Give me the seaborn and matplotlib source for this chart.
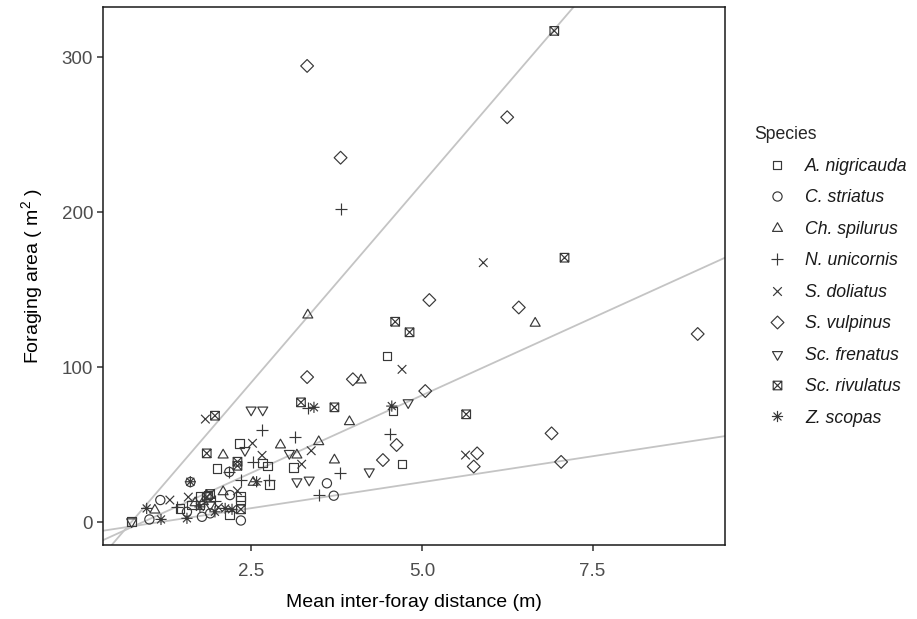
import numpy as np
import pandas as pd
import matplotlib
matplotlib.use("Agg")
import matplotlib.pyplot as plt
from matplotlib.path import Path
import seaborn as sns

# ---------------- data ----------------
species_order = ["A. nigricauda", "C. striatus", "Ch. spilurus", "N. unicornis",
                 "S. doliatus", "S. vulpinus", "Sc. frenatus", "Sc. rivulatus", "Z. scopas"]

anig_x = [0.75, 1.46, 1.63, 1.75, 1.75, 1.87, 2.00, 2.18, 2.33, 2.34, 2.34, 2.67, 2.74, 2.77, 3.12, 4.49, 4.58, 4.71]
anig_y = [0.4, 9.0, 11.2, 16.5, 11.2, 17.6, 34.8, 4.7, 51.0, 16.5, 14.4, 38.3, 36.4, 24.3, 35.5, 107.3, 71.8, 37.6]

cstr_x = [1.01, 1.17, 1.56, 1.61, 1.78, 1.90, 2.18, 2.19, 2.35, 3.61, 3.71]
cstr_y = [1.9, 14.4, 6.8, 26.0, 3.6, 5.8, 32.5, 17.6, 1.2, 25.2, 17.2]

chsp_x = [1.09, 1.68, 1.80, 2.09, 2.09, 2.53, 2.93, 3.17, 3.33, 3.49, 3.72, 3.94, 4.11, 6.66]
chsp_y = [7.9, 12.6, 13.3, 19.7, 43.4, 25.8, 49.9, 43.4, 133.7, 52.0, 40.2, 64.9, 91.8, 128.4]

nuni_x = [1.41, 1.97, 2.18, 2.35, 2.53, 2.66, 2.76, 3.14, 3.33, 3.50, 3.80, 3.81, 4.53]
nuni_y = [10.0, 14.0, 32.5, 27.3, 38.8, 59.8, 27.5, 55.0, 73.5, 17.6, 31.6, 202.1, 56.8]

sdol_x = [1.31, 1.58, 1.83, 2.02, 2.30, 2.52, 2.66, 3.24, 3.38, 4.71, 5.64, 5.90]
sdol_y = [14.4, 16.3, 66.6, 9.7, 20.3, 51.0, 43.2, 37.5, 46.2, 98.7, 43.4, 167.5]

svul_x = [3.32, 3.32, 3.81, 3.99, 4.43, 4.63, 5.05, 5.11, 5.76, 5.81, 6.25, 6.42, 6.90, 7.04, 9.04]
svul_y = [294.4, 93.7, 235.2, 92.3, 40.2, 49.9, 84.7, 143.4, 36.0, 44.5, 261.3, 138.6, 57.4, 39.0, 121.5]

scfr_x = [0.75, 1.90, 2.41, 2.50, 2.67, 3.06, 3.17, 3.35, 4.23, 4.80]
scfr_y = [0.4, 11.2, 46.4, 72.5, 72.5, 44.5, 26.2, 27.3, 32.6, 77.2]

scri_x = [1.85, 1.85, 1.90, 1.97, 2.30, 2.30, 2.35, 3.23, 3.72, 4.61, 4.82, 5.65, 6.94, 7.09]
scri_y = [16.5, 44.5, 18.3, 68.8, 39.1, 36.5, 8.4, 77.4, 74.2, 129.4, 122.6, 69.7, 317.0, 170.7]

zsco_x = [0.97, 1.18, 1.56, 1.61, 1.75, 1.97, 2.12, 2.22, 2.58, 3.42, 4.56]
zsco_y = [9.0, 1.9, 2.6, 26.2, 10.0, 6.8, 9.0, 8.4, 26.2, 74.2, 75.0]

# fitted lines (slope, intercept)
line_slopes = [51.3, 20.0, 6.7]
line_intercepts = [-38.1, -18.1, -7.6]

x_ticks = [2.5, 5.0, 7.5]
x_ticklabels = ["2.5", "5.0", "7.5"]
y_ticks = [0, 100, 200, 300]
y_ticklabels = ["0", "100", "200", "300"]

xs_all = [anig_x, cstr_x, chsp_x, nuni_x, sdol_x, svul_x, scfr_x, scri_x, zsco_x]
ys_all = [anig_y, cstr_y, chsp_y, nuni_y, sdol_y, svul_y, scfr_y, scri_y, zsco_y]

df = pd.concat([pd.DataFrame({"x": xs, "y": ys, "Species": sp})
                for sp, xs, ys in zip(species_order, xs_all, ys_all)], ignore_index=True)

# ---------------- marker shapes (ggplot shapes 0-8) ----------------
R = 7.0  # reference half-extent (px) used to normalise all shapes equally

def build(parts):
    verts = [(R, 0.0)]
    codes = [Path.MOVETO]
    for v, c in parts:
        verts += v
        codes += c
    return Path(np.array(verts, float), codes)

def poly(pts):
    v = list(pts) + [pts[0]]
    c = [Path.MOVETO] + [Path.LINETO] * (len(pts) - 1) + [Path.CLOSEPOLY]
    return v, c

def seg(a, b):
    return [a, b], [Path.MOVETO, Path.LINETO]

def circ(r):
    p = Path.circle((0, 0), r)
    return [tuple(v) for v in p.vertices], list(p.codes)

sq = 4.3
m_square = build([poly([(-sq, -sq), (sq, -sq), (sq, sq), (-sq, sq)])])
m_circle = build([circ(4.6)])
m_tri = build([poly([(-5.0, -2.9), (5.0, -2.9), (0.0, 5.8)])])
m_plus = build([seg((-6, 0), (6, 0)), seg((0, -6), (0, 6))])
m_x = build([seg((-4.3, -4.3), (4.3, 4.3)), seg((-4.3, 4.3), (4.3, -4.3))])
m_diam = build([poly([(0, -6.4), (6.4, 0), (0, 6.4), (-6.4, 0)])])
m_dtri = build([poly([(-5.0, 2.9), (5.0, 2.9), (0.0, -5.8)])])
m_sqx = build([poly([(-sq, -sq), (sq, -sq), (sq, sq), (-sq, sq)]),
               seg((-sq, -sq), (sq, sq)), seg((-sq, sq), (sq, -sq))])
a = 5.6
d = a * 0.7071
m_star = build([seg((-a, 0), (a, 0)), seg((0, -a), (0, a)),
                seg((-d, -d), (d, d)), seg((-d, d), (d, -d))])

marker_list = [m_square, m_circle, m_tri, m_plus, m_x, m_diam, m_dtri, m_sqx, m_star]
markers = dict(zip(species_order, marker_list))

# ---------------- figure ----------------
sns.set_theme(style="white")
plt.rcParams["font.family"] = ["Liberation Sans", "DejaVu Sans"]
plt.rcParams["mathtext.default"] = "regular"

fig = plt.figure(figsize=(9.17, 6.19), dpi=100)
ax = fig.add_axes([103.3 / 917, 1 - 545 / 619, (725 - 103.3) / 917, (545 - 6.7) / 619])

for m, b in zip(line_slopes, line_intercepts):
    ax.axline((0, b), slope=m, color="#c4c4c4", lw=1.3, zorder=1)

ms = 2 * R / 1.389
sns.scatterplot(data=df, x="x", y="y", style="Species", style_order=species_order,
                markers=markers, s=ms ** 2, facecolor="none", edgecolor="#383838",
                color="#383838", linewidth=0.85, ax=ax, zorder=3, legend=True)

ax.set_xlim(0.335, 9.44)
ax.set_ylim(-14.6, 332.6)
ax.set_xticks(x_ticks)
ax.set_xticklabels(x_ticklabels)
ax.set_yticks(y_ticks)
ax.set_yticklabels(y_ticklabels)
ax.tick_params(axis="both", which="major", length=4.3, width=1.1, color="#333333",
               labelcolor="#4d4d4d", labelsize=13.5, direction="out",
               bottom=True, left=True)
ax.tick_params(axis="x", pad=8.5)
ax.tick_params(axis="y", pad=3)
for sp in ax.spines.values():
    sp.set_linewidth(1.1)
    sp.set_color("#1a1a1a")

ax.set_xlabel("Mean inter-foray distance (m)", fontsize=14, color="black", labelpad=10)
ax.set_ylabel("Foraging area ( m$^{2}$ )", fontsize=14, color="black", labelpad=12)

fs = 12.7
bp = 1.12
bp_px = bp * fs * 1.389
sns.move_legend(ax, "upper left", bbox_to_anchor=((754 - bp_px) / 917, 1 - (126.5 - bp_px) / 619),
                bbox_transform=fig.transFigure, frameon=False, title="Species",
                fontsize=fs, title_fontsize=12.7, handlelength=2.6, handletextpad=0.3,
                labelspacing=0.82, borderpad=bp, borderaxespad=0, alignment="left")
leg = ax.get_legend()
for t in leg.get_texts():
    t.set_fontstyle("italic")
    t.set_color("#1a1a1a")

fig.savefig("out.png", dpi=100)
